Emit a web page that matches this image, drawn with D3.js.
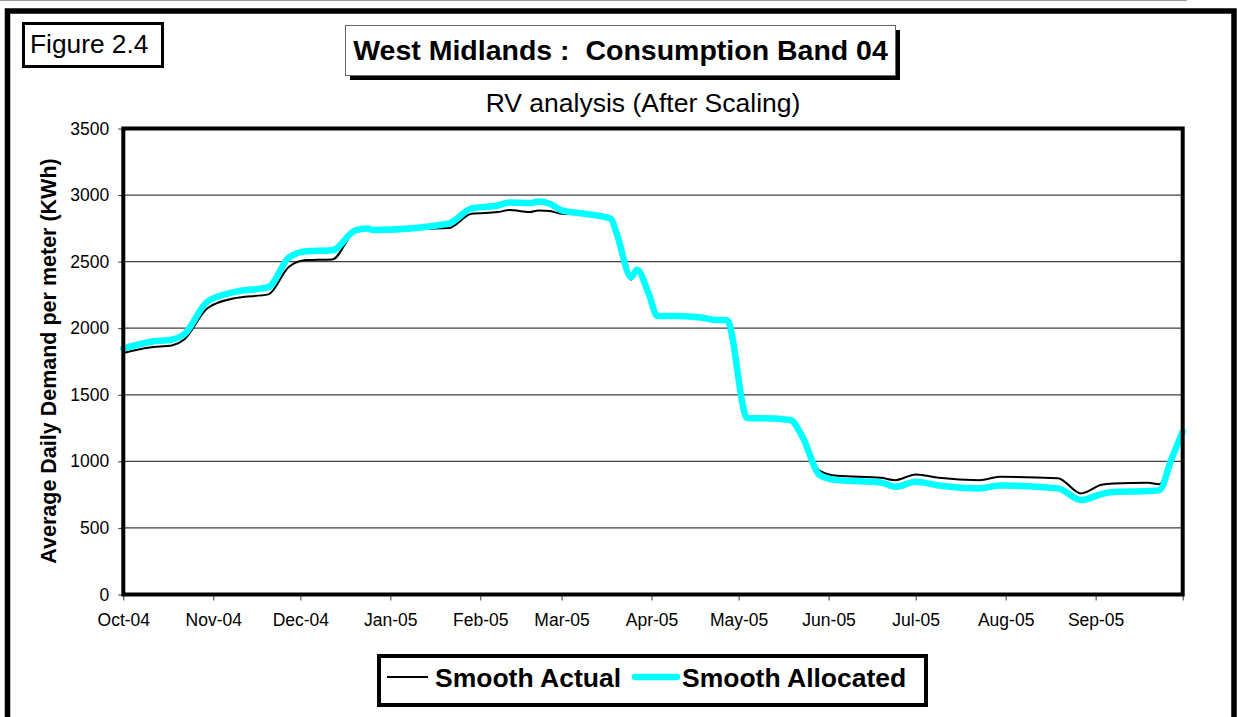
<!DOCTYPE html>
<html>
<head>
<meta charset="utf-8">
<script src="https://cdn.jsdelivr.net/npm/d3@7"></script>
<style>
  html, body { margin: 0; padding: 0; background: #fff; }
  svg { display: block; font-family: "Liberation Sans", Arial, sans-serif; }
</style>
</head>
<body>
<svg id="chart" width="1237" height="717"></svg>
<script>
// ---- Data ----
const dates = [
  "2004-10-01","2004-10-10","2004-10-18","2004-10-22","2004-10-30","2004-11-09","2004-11-20",
  "2004-11-27","2004-12-03","2004-12-12","2004-12-20","2004-12-24","2004-12-26","2005-01-21",
  "2005-01-29","2005-02-07","2005-02-11","2005-02-18","2005-02-21","2005-02-25","2005-03-01",
  "2005-03-09","2005-03-18","2005-03-20","2005-03-25","2005-03-27","2005-03-31","2005-04-03",
  "2005-04-10","2005-04-18","2005-04-23","2005-04-27","2005-05-04","2005-05-13","2005-05-19",
  "2005-05-23","2005-05-29","2005-06-04","2005-06-19","2005-06-24","2005-07-01","2005-07-09",
  "2005-07-23","2005-07-30","2005-08-19","2005-08-27","2005-09-03","2005-09-07","2005-09-19",
  "2005-09-23","2005-09-27","2005-10-01"
];
const smoothActual = [
  1814,1855,1872,1915,2150,2228,2254,
  2460,2512,2517,2730,2745,2738,2752,
  2860,2872,2888,2872,2885,2880,2860,
  2855,2820,2710,2365,2435,2260,2092,
  2092,2080,2062,2060,1326,1322,1309,
  1190,929,891,876,859,902,876,
  859,884,874,759,824,834,839,
  829,1009,1222
];
const smoothAllocated = [
  1847,1897,1915,1955,2200,2275,2308,
  2530,2578,2585,2735,2748,2738,2785,
  2900,2922,2945,2940,2952,2935,2885,
  2860,2822,2710,2384,2440,2260,2092,
  2092,2080,2062,2060,1326,1322,1309,
  1184,897,859,842,809,846,819,
  797,819,797,709,754,769,777,
  784,1009,1222
];
const yTicks = [0, 500, 1000, 1500, 2000, 2500, 3000, 3500];
const monthTicks = ["2004-10-01","2004-11-01","2004-12-01","2005-01-01","2005-02-01","2005-03-01",
  "2005-04-01","2005-05-01","2005-06-01","2005-07-01","2005-08-01","2005-09-01","2005-10-01"];
const seriesNames = ["Smooth Actual", "Smooth Allocated"];
const titleText = "West Midlands :  Consumption Band 04";
const subtitleText = "RV analysis (After Scaling)";
const figureLabel = "Figure 2.4";
const yAxisTitle = "Average Daily Demand per meter (KWh)";

// ---- Layout ----
const svg = d3.select("#chart");
const parse = d3.utcParse("%Y-%m-%d");
const plot = { left: 123.3, right: 1182.7, top: 128.5, bottom: 594.5 };

const x = d3.scaleUtc()
  .domain([parse("2004-10-01"), parse("2005-10-01")])
  .range([plot.left, plot.right]);
const y = d3.scaleLinear().domain([0, 3500]).range([plot.bottom, plot.top]);

// outer frame
svg.append("line").attr("x1", 0).attr("x2", 1187).attr("y1", 0.5).attr("y2", 0.5)
  .attr("stroke", "#999").attr("stroke-width", 1);
svg.append("rect").attr("x", 7.5).attr("y", 11).attr("width", 1226.5).attr("height", 730)
  .attr("fill", "none").attr("stroke", "#000").attr("stroke-width", 5.5);

// Figure label box
svg.append("rect").attr("x", 23.5).attr("y", 23.5).attr("width", 139).attr("height", 43)
  .attr("fill", "#fff").attr("stroke", "#000").attr("stroke-width", 3);
svg.append("text").attr("x", 30).attr("y", 52.5).attr("font-size", 26.3).text(figureLabel);

// Title box with shadow
svg.append("rect").attr("x", 350).attr("y", 30).attr("width", 550).attr("height", 50).attr("fill", "#000");
svg.append("rect").attr("x", 345.5).attr("y", 25.5).attr("width", 550).attr("height", 50)
  .attr("fill", "#fff").attr("stroke", "#666").attr("stroke-width", 1);
svg.append("text").attr("x", 620.5).attr("y", 60).attr("text-anchor", "middle")
  .style("white-space", "pre").attr("xml:space", "preserve")
  .attr("font-size", 28.5).attr("font-weight", "bold").text(titleText);

// subtitle
svg.append("text").attr("x", 643).attr("y", 112).attr("text-anchor", "middle")
  .attr("font-size", 26.5).text(subtitleText);

// gridlines
svg.append("g").selectAll("line").data(yTicks.filter(d => d > 0 && d < 3500)).join("line")
  .attr("x1", plot.left).attr("x2", plot.right)
  .attr("y1", d => y(d)).attr("y2", d => y(d))
  .attr("stroke", "#404040").attr("stroke-width", 1.2);

// y axis ticks and labels
const yAxis = d3.axisLeft(y).tickValues(yTicks).tickSize(5).tickPadding(9).tickFormat(d3.format("d"));
const gy = svg.append("g").attr("transform", `translate(${plot.left},0)`).call(yAxis);
gy.select(".domain").remove();
gy.selectAll(".tick line").attr("stroke", "#333").attr("stroke-width", 1);
gy.selectAll(".tick text").attr("font-size", 17.5).attr("fill", "#000")
  .attr("font-family", "'Liberation Sans', Arial, sans-serif");

// x axis ticks and labels
const tickDates = monthTicks.map(parse);
const xAxis = d3.axisBottom(x).tickValues(tickDates).tickSize(6).tickPadding(13)
  .tickFormat((d, i) => i < tickDates.length - 1 ? d3.utcFormat("%b-%y")(d) : "");
const gx = svg.append("g").attr("transform", `translate(0,${plot.bottom})`).call(xAxis);
gx.select(".domain").remove();
gx.selectAll(".tick line").attr("stroke", "#333").attr("stroke-width", 1);
gx.selectAll(".tick text").attr("font-size", 17.5).attr("fill", "#000")
  .attr("font-family", "'Liberation Sans', Arial, sans-serif");

// y axis title
svg.append("text")
  .attr("transform", "translate(56,361) rotate(-90)")
  .attr("text-anchor", "middle").attr("font-size", 21.5).attr("font-weight", "bold")
  .text(yAxisTitle);

// lines
const rows = dates.map((d, i) => ({ date: parse(d), a: smoothActual[i], b: smoothAllocated[i] }));
const lineA = d3.line().x(d => x(d.date)).y(d => y(d.a)).curve(d3.curveMonotoneX);
const lineB = d3.line().x(d => x(d.date)).y(d => y(d.b)).curve(d3.curveMonotoneX);

svg.append("path").datum(rows).attr("d", lineA).attr("fill", "none")
  .attr("stroke", "#000").attr("stroke-width", 2).attr("stroke-linejoin", "round");
svg.append("path").datum(rows).attr("d", lineB).attr("fill", "none")
  .attr("stroke", "#00FFFF").attr("stroke-width", 6.5).attr("stroke-linejoin", "round")
  .attr("stroke-linecap", "round");

// plot border
svg.append("rect").attr("x", plot.left).attr("y", plot.top)
  .attr("width", plot.right - plot.left).attr("height", plot.bottom - plot.top)
  .attr("fill", "none").attr("stroke", "#000").attr("stroke-width", 4);

// legend
const lg = svg.append("g");
lg.append("rect").attr("x", 379).attr("y", 656).attr("width", 547).attr("height", 49)
  .attr("fill", "#fff").attr("stroke", "#000").attr("stroke-width", 4);
lg.append("line").attr("x1", 387).attr("x2", 428).attr("y1", 677).attr("y2", 677)
  .attr("stroke", "#000").attr("stroke-width", 2);
lg.append("text").attr("x", 435).attr("y", 687).attr("font-size", 26.5).attr("font-weight", "bold")
  .text(seriesNames[0]);
lg.append("line").attr("x1", 635).attr("x2", 677).attr("y1", 677).attr("y2", 677)
  .attr("stroke", "#00FFFF").attr("stroke-width", 6.5).attr("stroke-linecap", "round");
lg.append("text").attr("x", 682).attr("y", 687).attr("font-size", 26.5).attr("font-weight", "bold")
  .text(seriesNames[1]);
</script>
</body>
</html>
